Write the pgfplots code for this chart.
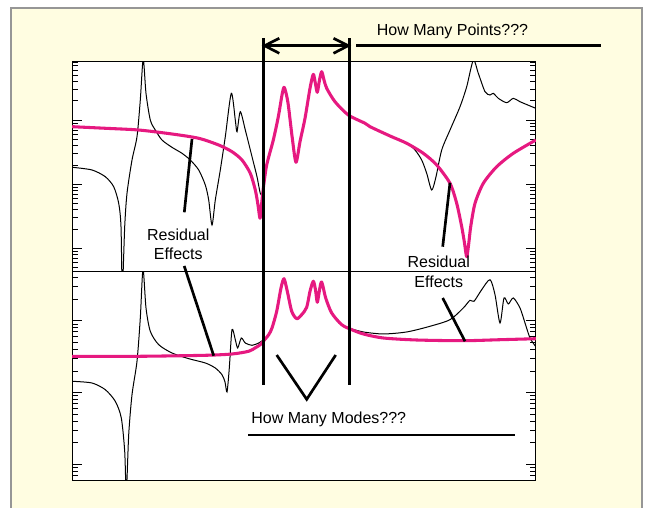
\documentclass[border=0pt]{standalone}
\usepackage{pgfplots}
\pgfplotsset{compat=1.18}
\usepackage{fontspec}
\setmainfont{Liberation Sans}
\definecolor{bgyellow}{RGB}{255,253,225}
\definecolor{framegray}{RGB}{150,150,150}
\definecolor{fmagenta}{RGB}{230,25,128}
\pgfplotsset{frf/.style={
  scale only axis, width=347.7pt, xmin=72.2, xmax=535.8,
  xtick=\empty, minor xtick={162.45,252.7,342.95,433.2,523.45},
  ytick={-2,-1,0}, yticklabels={,,}, xticklabels={}, tick pos=both,
  major tick length=7pt, minor tick length=4pt,
  axis line style={line width=0.8pt},
  every tick/.style={black, line width=0.5pt},
  axis background/.style={fill=white}, anchor=north west},
  blk/.style={black, line width=0.75pt, smooth, tension=0.45},
  mag/.style={fmagenta, line width=2.3pt, line join=round, smooth, tension=0.45}}
\begin{document}
\begin{tikzpicture}
\useasboundingbox (0,0) rectangle (483.75pt,-380.25pt);
\clip (0,0) rectangle (483.75pt,-380.25pt);
\begin{scope}[x=0.75pt,y=-0.75pt]
\fill[bgyellow] (11,8) rectangle (642,520);
\draw[framegray, line width=1.1pt] (11,8) rectangle (642,520);
\end{scope}

\begin{axis}[frf, at={(54.15pt,-45.9pt)}, height=157.5pt, ymin=-2.357, ymax=0.9166,
  minor ytick={-2.301,-2.222,-2.155,-2.097,-2.046,-1.699,-1.523,-1.398,-1.301,-1.222,-1.155,-1.097,-1.046,-0.699,-0.523,-0.398,-0.301,-0.222,-0.155,-0.097,-0.046,0.301,0.477,0.602,0.699,0.778,0.845,0.903}]
\addplot[blk] coordinates {(72.2,-0.737) (92,-0.779) (105.3,-0.884) (113.7,-1.040) (118.7,-1.299) (121,-1.663) (122.3,-2.65) (124.7,-1.663) (127,-1.143) (132,-0.624) (137,-0.260) (140.3,0.312) (143.2,0.95) (146,0.416) (150.3,0) (155.3,-0.156) (162,-0.312) (172,-0.426) (182,-0.519) (190.3,-0.624) (198.7,-0.779) (205.3,-1.013) (208.7,-1.247) (212,-1.637) (215.3,-1.247) (220.3,-0.779) (225.3,-0.260) (231.3,0.416) (235.3,0) (237,-0.182) (240.3,0.129) (245.3,-0.156) (252,-0.572) (257,-0.884) (260.3,-1.143) (263.4,-1.200)};
\addplot[blk] coordinates {(349.4,0.070) (365,-0.051) (370,-0.104) (390,-0.249) (406.7,-0.363) (415,-0.468) (421.7,-0.624) (426.7,-0.831) (431.7,-1.091) (436,-0.884) (441.7,-0.468) (450,-0.156) (460,0.207) (466.7,0.519) (473.3,0.93) (478.3,0.728) (485,0.441) (490,0.390) (493.3,0.416) (498.3,0.338) (506.7,0.270) (513.3,0.338) (520,0.285) (535.8,0.182)};
\addplot[mag] coordinates {(72.2,-0.104) (105.3,-0.129) (138.7,-0.156) (172,-0.218) (198.7,-0.285) (218.7,-0.390) (232,-0.494) (242,-0.624) (250.3,-0.831) (255.3,-1.091) (258,-1.325) (260,-1.532) (261.5,-1.325) (263.3,-1.065) (266.7,-0.701) (273.3,-0.312) (278.3,0.051) (282,0.390) (284,0.510) (286,0.421) (288.3,0.234) (292.3,-0.285) (296,-0.659) (300,-0.338) (305,0.026) (310,0.494) (313.3,0.712) (315.5,0.561) (317.3,0.432) (319.5,0.624) (321.7,0.753) (324,0.624) (326.7,0.494) (335,0.285) (348.3,0.078) (365,-0.051) (370,-0.104) (390,-0.249) (406.7,-0.363) (423.3,-0.519) (436.7,-0.701) (450,-0.987) (456.7,-1.299) (461.7,-1.663) (464.5,-1.917) (466.7,-2.131) (468.8,-1.917) (470.7,-1.663) (475,-1.299) (483.3,-0.987) (496.7,-0.728) (513.3,-0.519) (535.8,-0.312)};
\end{axis}

\begin{axis}[frf, at={(54.15pt,-203.4pt)}, height=157.2pt, ymin=-2.230, ymax=0.689,
  minor ytick={-2.222,-2.155,-2.097,-2.046,-1.699,-1.523,-1.398,-1.301,-1.222,-1.155,-1.097,-1.046,-0.699,-0.523,-0.398,-0.301,-0.222,-0.155,-0.097,-0.046,0.301,0.477,0.602}]
\addplot[blk] coordinates {(72.2,-0.844) (92,-0.868) (105.3,-0.961) (115.3,-1.123) (121.3,-1.355) (124.7,-1.819) (126.3,-2.4) (128.7,-1.588) (132,-1.031) (137,-0.565) (140.3,0.038) (143,0.72) (146,0.177) (150.3,-0.148) (158.7,-0.334) (172,-0.450) (188.7,-0.529) (205.3,-0.589) (215.3,-0.659) (222,-0.752) (225,-0.854) (227,-0.993) (229.3,-0.659) (232,-0.125) (235.3,-0.265) (237.7,-0.380) (241.3,-0.241) (245.3,-0.311) (252,-0.343) (258.7,-0.311) (263.7,-0.265)};
\addplot[blk] coordinates {(349.4,-0.106) (363.3,-0.157) (383.3,-0.185) (406.7,-0.157) (430,-0.078) (450,0.014) (463.3,0.177) (470,0.284) (474,0.270) (481.7,0.432) (490,0.571) (495,0.362) (500,-0.032) (504,0.316) (508.3,0.233) (513.3,0.316) (520,0.177) (525,-0.032) (530,-0.241) (535.8,-0.362)};
\addplot[mag] coordinates {(72.2,-0.496) (138.7,-0.496) (205.3,-0.482) (232,-0.464) (248.7,-0.426) (255,-0.380) (260.3,-0.334) (263.3,-0.287) (268.7,-0.195) (272,-0.102) (276.7,0.131) (281,0.455) (284,0.585) (287.3,0.409) (291.7,0.131) (296.7,0.028) (301.7,0.084) (306.7,0.187) (310,0.409) (313.3,0.549) (315.5,0.428) (317.3,0.256) (319.5,0.428) (321.7,0.539) (325.7,0.316) (331.7,0.107) (341.7,-0.056) (351.7,-0.125) (363.3,-0.185) (383.3,-0.241) (416.7,-0.269) (463.3,-0.279) (500,-0.265) (535.8,-0.251)};
\end{axis}

\begin{scope}[x=0.75pt,y=-0.75pt, line width=2pt, font=\fontsize{12}{14}\selectfont]
\draw (263.4,38.3) -- (263.4,385);
\draw (349.4,38.3) -- (349.4,385);
\draw (263.4,45.7) -- (349.4,45.7);
\draw[line join=miter] (279.3,38.3) -- (264.6,45.7) -- (279.3,53.3);
\draw[line join=miter] (333.5,38.3) -- (348.2,45.7) -- (333.5,53.3);
\draw (356,45.7) -- (601,45.7);
\node[anchor=base] at (452.5,35.7) {How Many Points???};
\draw (276.7,355) -- (306.7,399.3) -- (335.7,355);
\node[anchor=base] at (328.8,423.3) {How Many Modes???};
\draw (248.3,435) -- (515,435);
\node[anchor=base] at (178.3,240) {Residual};
\node[anchor=base] at (178.3,259) {Effects};
\draw (192,139) -- (184.3,212.3);
\draw (184.2,266) -- (213.7,355.7);
\node[anchor=base] at (438.8,267.3) {Residual};
\node[anchor=base] at (438.8,287) {Effects};
\draw (450,182.7) -- (442.7,246.7);
\draw (442.7,298) -- (465,341.3);
\end{scope}
\end{tikzpicture}
\end{document}
